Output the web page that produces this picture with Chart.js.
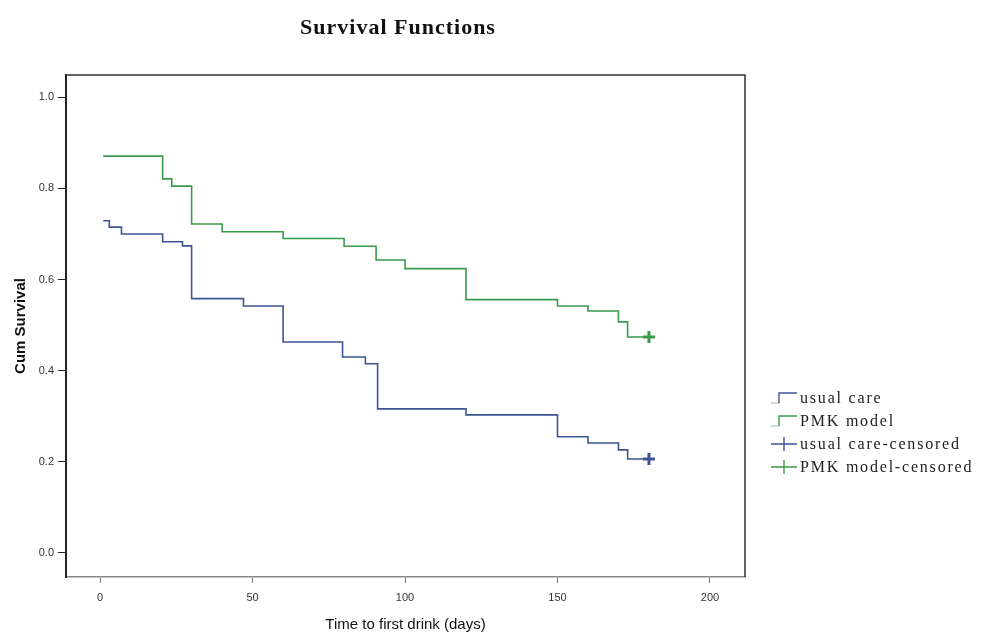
<!DOCTYPE html>
<html>
<head>
<meta charset="utf-8">
<script src="https://cdn.jsdelivr.net/npm/chart.js@4"></script>
<style>
  body { margin: 0; background: #fff; }
  #wrap { position: relative; width: 996px; height: 642px; }
  #title { position: absolute; left: 0; width: 796px; top: 14px; text-align: center;
           font: bold 22px "Liberation Serif", serif; color: #111; letter-spacing: 1px; }
  #legend { position: absolute; left: 771px; top: 386px; font: 16px "Liberation Serif", serif; color: #222; letter-spacing: 1.8px; }
  .row { height: 23px; display: flex; align-items: center; white-space: nowrap; }
  .row svg { width: 26px; height: 20px; margin-right: 3px; }
</style>
</head>
<body>
<div id="wrap">
  <canvas id="kmChart" width="996" height="642"></canvas>
  <div id="title">Survival Functions</div>
  <div id="legend"></div>
</div>
<script>
// survival values (days, cum survival)
const usualDays = [1, 3, 7, 20.5, 27, 30, 47, 60, 79.5, 87, 91, 120, 150, 160, 170, 173, 180];
const usualSurv = [0.729, 0.715, 0.700, 0.683, 0.674, 0.558, 0.542, 0.463, 0.430, 0.415, 0.316, 0.303, 0.255, 0.241, 0.226, 0.206, 0.206];
const pmkDays = [1, 20.5, 23.5, 30, 40, 60, 80, 90.5, 100, 120, 150, 160, 170, 173, 180];
const pmkSurv = [0.871, 0.821, 0.805, 0.722, 0.705, 0.690, 0.673, 0.643, 0.624, 0.556, 0.542, 0.531, 0.507, 0.474, 0.474];
const usualCensorDays = [180];
const usualCensorSurv = [0.206];
const pmkCensorDays = [180];
const pmkCensorSurv = [0.474];

const xTicks = [0, 50, 100, 150, 200];
const yTicks = [0.0, 0.2, 0.4, 0.6, 0.8, 1.0];
const seriesNames = ['usual care', 'PMK model', 'usual care-censored', 'PMK model-censored'];

const blue = '#3d5494';
const green = '#3a9a4b';

function pts(xs, ys) { return xs.map((x, i) => ({ x: x, y: ys[i] })); }

// box around the plot (top + right sides)
const boxPlugin = {
  id: 'box',
  afterDraw(chart) {
    const a = chart.chartArea, c = chart.ctx;
    c.save();
    c.strokeStyle = '#333';
    c.lineWidth = 1.5;
    c.beginPath();
    c.moveTo(a.left, a.top);
    c.lineTo(a.right, a.top);
    c.lineTo(a.right, a.bottom);
    c.stroke();
    c.restore();
  }
};

const ctx = document.getElementById('kmChart').getContext('2d');
const kmChart = new Chart(ctx, {
  type: 'line',
  data: {
    datasets: [
      { label: seriesNames[0], data: pts(usualDays, usualSurv), borderColor: blue, borderWidth: 1.6, stepped: 'before', pointRadius: 0, fill: false },
      { label: seriesNames[1], data: pts(pmkDays, pmkSurv), borderColor: green, borderWidth: 1.6, stepped: 'before', pointRadius: 0, fill: false },
      { label: seriesNames[2], data: pts(usualCensorDays, usualCensorSurv), showLine: false, pointStyle: 'cross', pointRadius: 6, borderColor: blue, borderWidth: 3 },
      { label: seriesNames[3], data: pts(pmkCensorDays, pmkCensorSurv), showLine: false, pointStyle: 'cross', pointRadius: 6, borderColor: green, borderWidth: 3 }
    ]
  },
  options: {
    responsive: false,
    animation: false,
    maintainAspectRatio: false,
    layout: { padding: { top: 75, right: 251, left: 0, bottom: 0 } },
    plugins: { legend: { display: false }, tooltip: { enabled: false } },
    scales: {
      x: {
        type: 'linear',
        min: -11.2,
        max: 211.5,
        afterFit: s => { s.height = 65; },
        afterBuildTicks: s => { s.ticks = xTicks.map(v => ({ value: v })); },
        grid: { drawOnChartArea: false, drawTicks: true, tickLength: 6, color: '#777' },
        border: { color: '#888', width: 1.5 },
        ticks: { color: '#333', padding: 8, font: { family: 'Liberation Sans', size: 11 } },
        title: { display: true, text: 'Time to first drink (days)', color: '#111',
                 font: { family: 'Liberation Sans', size: 15 }, padding: { top: 0, bottom: 8 } }
      },
      y: {
        min: -0.053,
        max: 1.049,
        afterFit: s => { s.width = 66; },
        afterBuildTicks: s => { s.ticks = yTicks.map(v => ({ value: v })); },
        grid: { drawOnChartArea: false, drawTicks: true, tickLength: 8, color: '#222' },
        border: { color: '#222', width: 2 },
        ticks: { color: '#333', padding: 4, font: { family: 'Liberation Sans', size: 11 },
                 callback: v => v.toFixed(1) },
        title: { display: true, text: 'Cum Survival', color: '#111',
                 font: { family: 'Liberation Sans', size: 15, weight: 'bold' }, padding: { top: 12, bottom: 0 } }
      }
    }
  },
  plugins: [boxPlugin]
});

// legend built from the series names
const symbols = [
  '<svg viewBox="0 0 26 20"><path d="M0 15 H8" stroke="#bbb" stroke-width="1.2" fill="none"/><path d="M8 15 V5 H26" stroke="' + blue + '" stroke-width="1.4" fill="none"/></svg>',
  '<svg viewBox="0 0 26 20"><path d="M0 15 H8" stroke="#bbb" stroke-width="1.2" fill="none"/><path d="M8 15 V5 H26" stroke="' + green + '" stroke-width="1.4" fill="none"/></svg>',
  '<svg viewBox="0 0 26 20"><path d="M0 10 H26 M13 3 V17" stroke="' + blue + '" stroke-width="1.4" fill="none"/></svg>',
  '<svg viewBox="0 0 26 20"><path d="M0 10 H26 M13 3 V17" stroke="' + green + '" stroke-width="1.4" fill="none"/></svg>'
];
document.getElementById('legend').innerHTML = seriesNames
  .map((n, i) => '<div class="row">' + symbols[i] + '<span>' + n + '</span></div>').join('');
</script>
</body>
</html>
